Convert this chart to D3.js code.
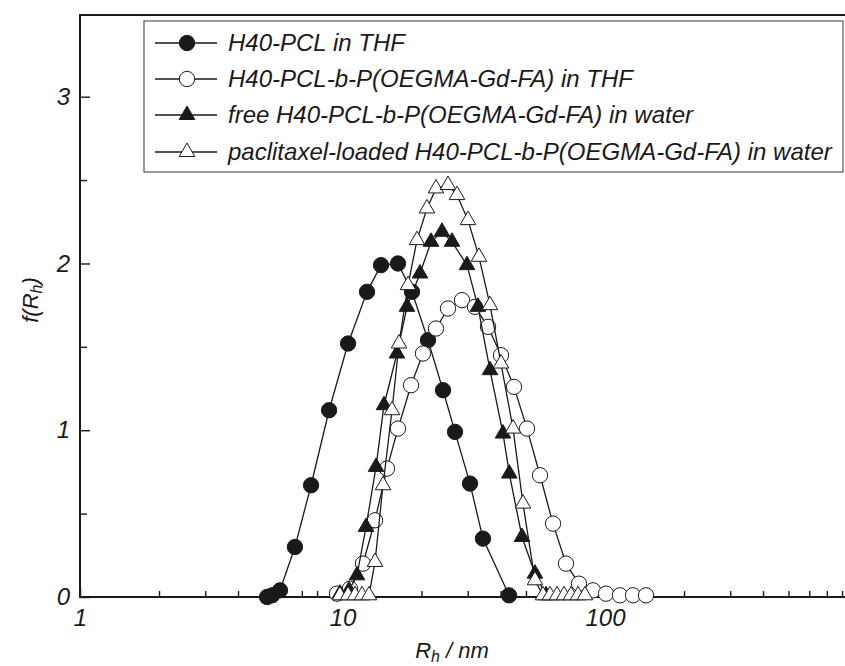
<!DOCTYPE html>
<html>
<head>
<meta charset="utf-8">
<script src="https://cdn.jsdelivr.net/npm/d3@7"></script>
<style>
  body { margin: 0; background: #fff; }
  svg { display: block; }
  text { font-family: "Liberation Sans", Arial, sans-serif; font-style: italic; fill: #1a1a1a; }
</style>
</head>
<body>
<svg id="chart" width="845" height="666"></svg>
<script>
// series names (legend order)
var seriesNames = [
  'H40-PCL in THF',
  'H40-PCL-b-P(OEGMA-Gd-FA) in THF',
  'free H40-PCL-b-P(OEGMA-Gd-FA) in water',
  'paclitaxel-loaded H40-PCL-b-P(OEGMA-Gd-FA) in water'
]

// H40-PCL in THF
var pclR = [5.16, 5.39, 5.78, 6.59, 7.59, 8.89, 10.5, 12.4, 14.02, 16.27, 18.4, 21.17, 24.15, 26.83, 30.6, 34.29, 43.09]
var pclF = [0, 0.01, 0.04, 0.30, 0.67, 1.12, 1.52, 1.83, 1.99, 2.00, 1.83, 1.54, 1.24, 0.99, 0.68, 0.35, 0.01]

// H40-PCL-b-P(OEGMA-Gd-FA) in THF
var thfR = [9.53, 10.68, 11.97, 13.3, 14.77, 16.27, 18.24, 20.26, 22.71, 25.23, 28.53, 31.97, 35.84, 40.17, 45.02, 50.46, 56.55, 63.38, 71.03, 79.61, 90.01, 100.9, 114.0, 127.9, 143.3]
var thfF = [0.02, 0.05, 0.20, 0.46, 0.77, 1.01, 1.27, 1.46, 1.61, 1.73, 1.78, 1.74, 1.62, 1.45, 1.26, 1.01, 0.73, 0.44, 0.20, 0.08, 0.04, 0.02, 0.01, 0.01, 0.01]

// free micelles in water
var freeR = [9.78, 10.59, 11.36, 12.29, 13.42, 14.39, 16.13, 17.61, 19.74, 21.74, 23.93, 26.13, 29.81, 32.82, 36.47, 40.88, 43.2, 48.29, 54.11, 59.6]
var freeF = [0.02, 0.04, 0.13, 0.42, 0.78, 1.15, 1.46, 1.74, 1.94, 2.13, 2.19, 2.13, 1.99, 1.74, 1.36, 0.98, 0.74, 0.36, 0.14, 0.01]

// paclitaxel-loaded micelles in water
var ptxR = [9.78, 10.5, 11.16, 11.87, 12.62, 13.3, 14.27, 15.44, 16.42, 17.77, 19.22, 20.98, 22.71, 25.23, 27.31, 30.07, 33.11, 36.47, 40.17, 44.63, 48.71, 54.11, 58.04, 61.73, 65.64, 69.79, 74.21, 78.9, 83.89]
var ptxF = [0.01, 0.01, 0.01, 0.01, 0.01, 0.21, 0.67, 1.12, 1.52, 1.87, 2.14, 2.33, 2.45, 2.47, 2.41, 2.26, 2.04, 1.75, 1.40, 1.01, 0.56, 0.10, 0.01, 0.01, 0.01, 0.01, 0.01, 0.01, 0.01]

var xMajor = [1, 10, 100]
var yMajor = [0, 1, 2, 3]

var svg = d3.select('#chart')
var plotLeft = 80, plotRight = 845, plotTop = 15, plotBottom = 597

var x = d3.scaleLog().domain([1, 821]).range([plotLeft, plotRight])
var y = d3.scaleLinear().domain([0, 3.49]).range([plotBottom, plotTop])

// minor ticks
var xMinor = []
;[1, 10, 100].forEach(function (d) {
  for (var k = 2; k <= 9; k++) if (d * k <= 821) xMinor.push(d * k)
})
var yMinor = [0.5, 1.5, 2.5]

svg.append('g').attr('transform', 'translate(0,' + plotBottom + ')')
  .call(d3.axisBottom(x).tickValues(xMinor).tickSize(-6).tickFormat(''))
svg.append('g').attr('transform', 'translate(0,' + plotBottom + ')')
  .call(d3.axisBottom(x).tickValues(xMajor).tickSize(-10).tickPadding(12).tickFormat(d3.format('d')))
svg.append('g').attr('transform', 'translate(' + plotLeft + ',0)')
  .call(d3.axisLeft(y).tickValues(yMinor).tickSize(-7).tickFormat(''))
svg.append('g').attr('transform', 'translate(' + plotLeft + ',0)')
  .call(d3.axisLeft(y).tickValues(yMajor).tickSize(-10).tickPadding(10).tickFormat(d3.format('d')))

svg.selectAll('.domain').remove()
svg.selectAll('.tick line').attr('stroke', '#1a1a1a').attr('stroke-width', 1.4)
svg.selectAll('.tick text').style('font-size', '24px').style('font-family', '"Liberation Sans", Arial, sans-serif')

// frame: left, bottom, top
svg.append('path')
  .attr('d', 'M' + plotRight + ',' + plotTop + 'H' + plotLeft + 'V' + plotBottom + 'H' + plotRight)
  .attr('fill', 'none').attr('stroke', '#1a1a1a').attr('stroke-width', 2)

// axis titles
var xt = svg.append('text').attr('x', 452).attr('y', 658).attr('text-anchor', 'middle').style('font-size', '22px')
xt.append('tspan').text('R')
xt.append('tspan').attr('dy', 4).style('font-size', '16px').text('h')
xt.append('tspan').attr('dy', -4).text(' / nm')

var yt = svg.append('text').attr('transform', 'translate(38,300) rotate(-90)').attr('text-anchor', 'middle').style('font-size', '22px')
yt.append('tspan').text('f(R')
yt.append('tspan').attr('dy', 4).style('font-size', '16px').text('h')
yt.append('tspan').attr('dy', -4).text(')')

var series = [
  { R: pclR, F: pclF, shape: d3.symbolCircle, fill: '#1a1a1a' },
  { R: thfR, F: thfF, shape: d3.symbolCircle, fill: '#fff' },
  { R: freeR, F: freeF, shape: d3.symbolTriangle, fill: '#1a1a1a' },
  { R: ptxR, F: ptxF, shape: d3.symbolTriangle, fill: '#fff' }
]

var line = d3.line()
  .x(function (d) { return x(d[0]) })
  .y(function (d) { return y(d[1]) })

function marker (s) {
  var size = s.shape === d3.symbolCircle ? 185 : 105
  return d3.symbol().type(s.shape).size(size)()
}

series.forEach(function (s) {
  var pts = s.R.map(function (r, i) { return [r, s.F[i]] })
  svg.append('path').datum(pts)
    .attr('d', line).attr('fill', 'none').attr('stroke', '#1a1a1a').attr('stroke-width', 1.3)
  svg.append('g').selectAll('path').data(pts).enter().append('path')
    .attr('d', marker(s))
    .attr('transform', function (d) { return 'translate(' + x(d[0]) + ',' + y(d[1]) + ')' })
    .attr('fill', s.fill).attr('stroke', '#1a1a1a').attr('stroke-width', 1)
})

// legend
var lg = svg.append('g')
lg.append('rect').attr('x', 144).attr('y', 21).attr('width', 699).attr('height', 151)
  .attr('fill', '#fff').attr('stroke', '#555').attr('stroke-width', 1.2)
var rowY = [43, 79, 115, 152]
series.forEach(function (s, i) {
  var g = lg.append('g').attr('transform', 'translate(0,' + rowY[i] + ')')
  g.append('line').attr('x1', 155).attr('x2', 217).attr('stroke', '#1a1a1a').attr('stroke-width', 1.3)
  g.append('path').attr('d', marker(s)).attr('transform', 'translate(187,0)')
    .attr('fill', s.fill).attr('stroke', '#1a1a1a').attr('stroke-width', 1)
  g.append('text').attr('x', 228).attr('y', 8).style('font-size', '24px').text(seriesNames[i])
})
</script>
</body>
</html>
